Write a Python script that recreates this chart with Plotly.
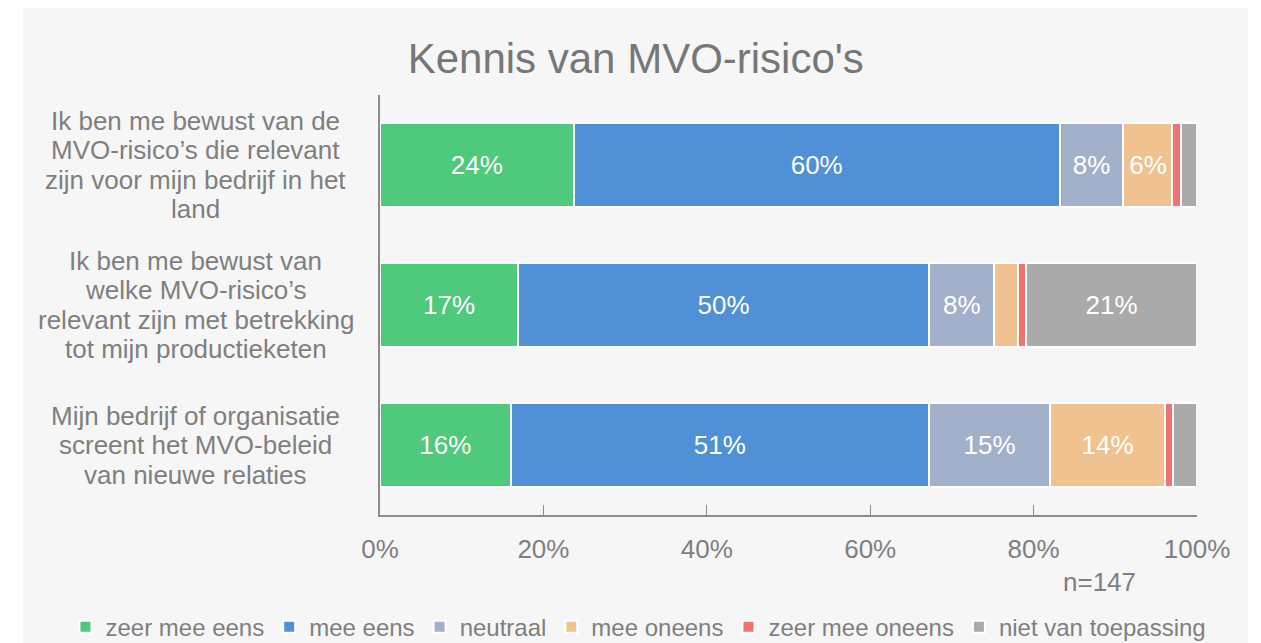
import plotly.graph_objects as go

# -------------------------------
# Data
# -------------------------------
categories = [
    "Ik ben me bewust van de<br>MVO-risico’s die relevant<br>zijn voor mijn bedrijf in het<br>land",
    "Ik ben me bewust van<br>welke MVO-risico’s<br>relevant zijn met betrekking<br>tot mijn productieketen",
    "Mijn bedrijf of organisatie<br>screent het MVO-beleid<br>van nieuwe relaties",
]
series_names = ["zeer mee eens", "mee eens", "neutraal", "mee oneens", "zeer mee oneens", "niet van toepassing"]
zeer_mee_eens = [23.7, 16.9, 16.0]
mee_eens = [59.5, 50.3, 51.2]
neutraal = [7.8, 8.0, 14.8]
mee_oneens = [6.0, 2.9, 14.1]
zeer_mee_oneens = [1.0, 1.0, 1.0]
niet_van_toepassing = [2.0, 20.9, 2.9]
colors = ["#4fc97b", "#4f90d6", "#a2b0ca", "#f0c290", "#f07272", "#aaaaaa"]
tick_vals = [0, 20, 40, 60, 80, 100]
tick_text = ["0%", "20%", "40%", "60%", "80%", "100%"]
n_label = "n=147"

FONT = "Liberation Sans, Arial, sans-serif"
GREY = "#7f7f7f"
LINE_GAP = 29.5  # px between label lines

all_series = [zeer_mee_eens, mee_eens, neutraal, mee_oneens, zeer_mee_oneens, niet_van_toepassing]

fig = go.Figure()
for name, vals, col in zip(series_names, all_series, colors):
    labels = [f"{round(v)}%" if v >= 5 else "" for v in vals]
    fig.add_trace(go.Bar(
        y=categories, x=vals, name=name, orientation="h",
        marker=dict(color=col, line=dict(color="white", width=2)),
        text=labels, textposition="inside", insidetextanchor="middle",
        textangle=0, constraintext="none",
        textfont=dict(color="white", size=26, family=FONT),
        width=0.6, hoverinfo="skip",
    ))

# category labels, centred and tightly spaced like the original
for cat in categories:
    lines = cat.split("<br>")
    n = len(lines)
    for i, line in enumerate(lines):
        fig.add_annotation(x=-0.2258, xref="paper", y=cat, yref="y", text=line,
                           showarrow=False, xanchor="center", yanchor="middle",
                           yshift=((n - 1) / 2 - i) * LINE_GAP,
                           font=dict(size=26, color=GREY, family=FONT))

fig.add_annotation(x=0.881, xref="paper", y=-0.16, yref="paper", text=n_label,
                   showarrow=False, xanchor="center", yanchor="middle",
                   font=dict(size=26, color=GREY, family=FONT))

# light grey panel behind the whole chart
fig.add_shape(type="rect", xref="paper", yref="paper",
              x0=-0.437, x1=1.0624, y0=-0.35, y1=1.25,
              fillcolor="#f6f6f6", line=dict(width=0), layer="below")

fig.update_layout(
    width=1253, height=635,
    margin=dict(l=372, r=64, t=87, b=128, autoexpand=False),
    paper_bgcolor="white", plot_bgcolor="rgba(0,0,0,0)",
    barmode="stack", showlegend=True,
    title=dict(text="Kennis van MVO-risico's", x=0.501, xanchor="center",
               y=0.921, yanchor="middle",
               font=dict(size=42, color="#777777", family=FONT)),
    # legend placed left of / below the plot so it may use the full width
    legend=dict(orientation="h", xref="paper", yref="paper",
                x=-0.385, xanchor="left", y=-0.267, yanchor="middle",
                font=dict(size=24, color=GREY, family=FONT),
                bgcolor="rgba(0,0,0,0)", itemwidth=30, traceorder="normal"),
    xaxis=dict(range=[0, 100], tickvals=tick_vals, ticktext=tick_text,
               showgrid=False, zeroline=False, showline=True,
               linecolor="#8c8c8c", linewidth=2, ticks="inside", ticklen=10,
               tickcolor="#8c8c8c", tickwidth=1, ticklabelstandoff=10,
               tickfont=dict(size=26, color=GREY, family=FONT)),
    yaxis=dict(range=[2.5, -0.5], showticklabels=False, showgrid=False,
               zeroline=False, showline=True, linecolor="#8c8c8c", linewidth=2),
)

fig.write_html("out.html")
